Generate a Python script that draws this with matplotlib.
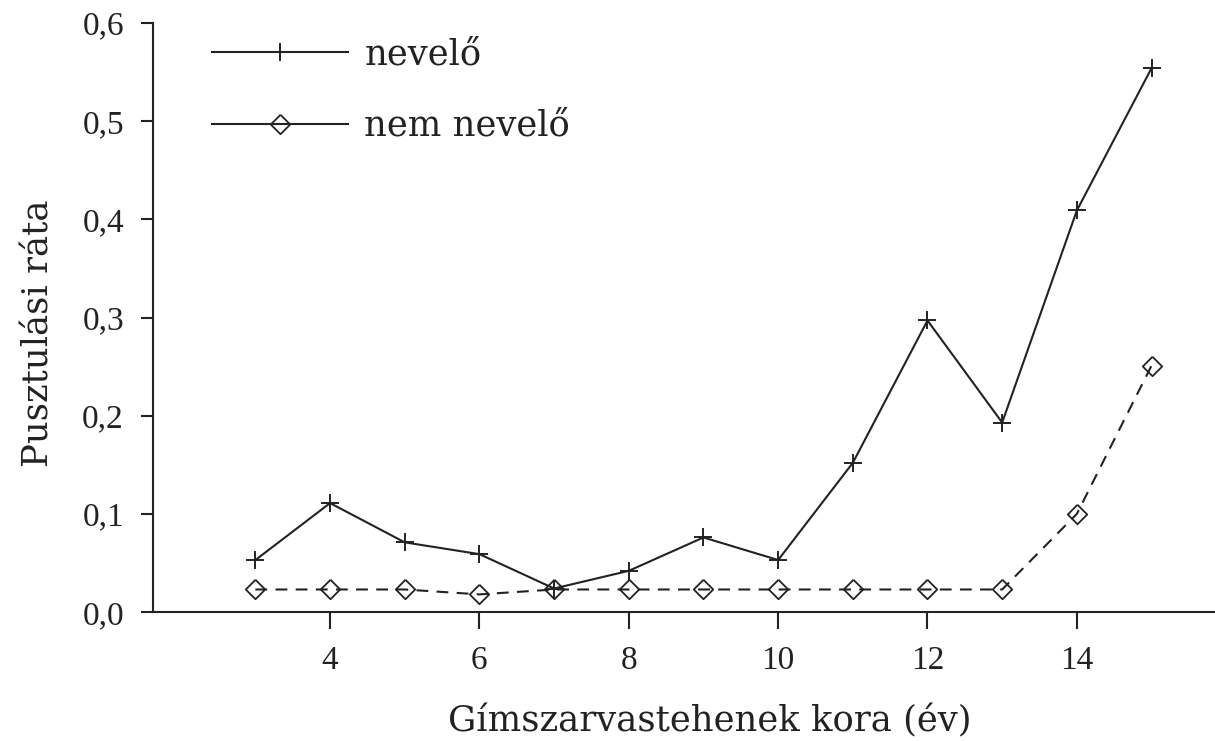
import matplotlib
matplotlib.use("Agg")
import matplotlib.pyplot as plt
from matplotlib.lines import Line2D
from matplotlib.ticker import FuncFormatter

plt.rcParams['font.family'] = ['Liberation Serif', 'DejaVu Serif']
plt.rcParams['lines.scale_dashes'] = False

# Age of hinds (years)
age = [3, 4, 5, 6, 7, 8, 9, 10, 11, 12, 13, 14, 15]
# Mortality rate of rearing hinds
nevelo = [0.053, 0.111, 0.071, 0.059, 0.024, 0.042, 0.076, 0.053, 0.152, 0.297, 0.193, 0.409, 0.554]
# Mortality rate of non-rearing hinds
nem_nevelo = [0.023, 0.023, 0.023, 0.018, 0.023, 0.023, 0.023, 0.023, 0.023, 0.023, 0.023, 0.100, 0.251]

x_ticks = [4, 6, 8, 10, 12, 14]
y_ticks = [0.0, 0.1, 0.2, 0.3, 0.4, 0.5, 0.6]
series_labels = ['nevelő', 'nem nevelő']

ink = '#222222'
label_font = ['DejaVu Serif']
label_size = 25.5
# square diamond outline
diamond = [(0, 1), (1, 0), (0, -1), (-1, 0), (0, 1)]

plus_style = dict(color=ink, lw=1.5, marker='+', ms=13.5, mew=1.4)
diamond_style = dict(color=ink, lw=1.5, marker=diamond, ms=14, mew=1.3,
                     mfc='none', mec=ink)

fig = plt.figure(figsize=(12.15, 7.41), dpi=100)
ax = fig.add_axes([0.126, 0.174, 0.874, 0.795])

ax.plot(age, nevelo, **plus_style)
ax.plot(age, nem_nevelo, dashes=(8.5, 6), **diamond_style)

ax.set_xlim(1.63, 15.85)
ax.set_ylim(0, 0.6)
ax.set_xticks(x_ticks)
ax.set_yticks(y_ticks)
ax.yaxis.set_major_formatter(FuncFormatter(lambda v, p: f"{v:.1f}".replace('.', ',')))

for side in ('top', 'right'):
    ax.spines[side].set_visible(False)
for side in ('left', 'bottom'):
    ax.spines[side].set_linewidth(1.5)
    ax.spines[side].set_color(ink)

ax.tick_params(axis='x', direction='out', length=12, width=1.5, pad=12,
               labelsize=24, colors=ink)
ax.tick_params(axis='y', direction='out', length=9, width=1.5, pad=12,
               labelsize=24, colors=ink)

ax.set_xlabel('Gímszarvastehenek kora (év)', fontsize=label_size, color=ink,
              family=label_font)
ax.set_ylabel('Pusztulási ráta', fontsize=label_size, color=ink, family=label_font)
ax.xaxis.set_label_coords(0.524, -0.156)
ax.yaxis.set_label_coords(-0.092, 0.474)

handles = [Line2D([], [], **plus_style), Line2D([], [], **diamond_style)]
fig.legend(handles, series_labels, loc='upper left',
           bbox_to_anchor=(0.1745, 0.949), bbox_transform=fig.transFigure,
           frameon=False, prop={'family': label_font, 'size': label_size},
           borderpad=0, borderaxespad=0,
           handlelength=3.85, labelspacing=1.05, handletextpad=0.45,
           labelcolor=ink)

fig.savefig('out.png', dpi=100)
